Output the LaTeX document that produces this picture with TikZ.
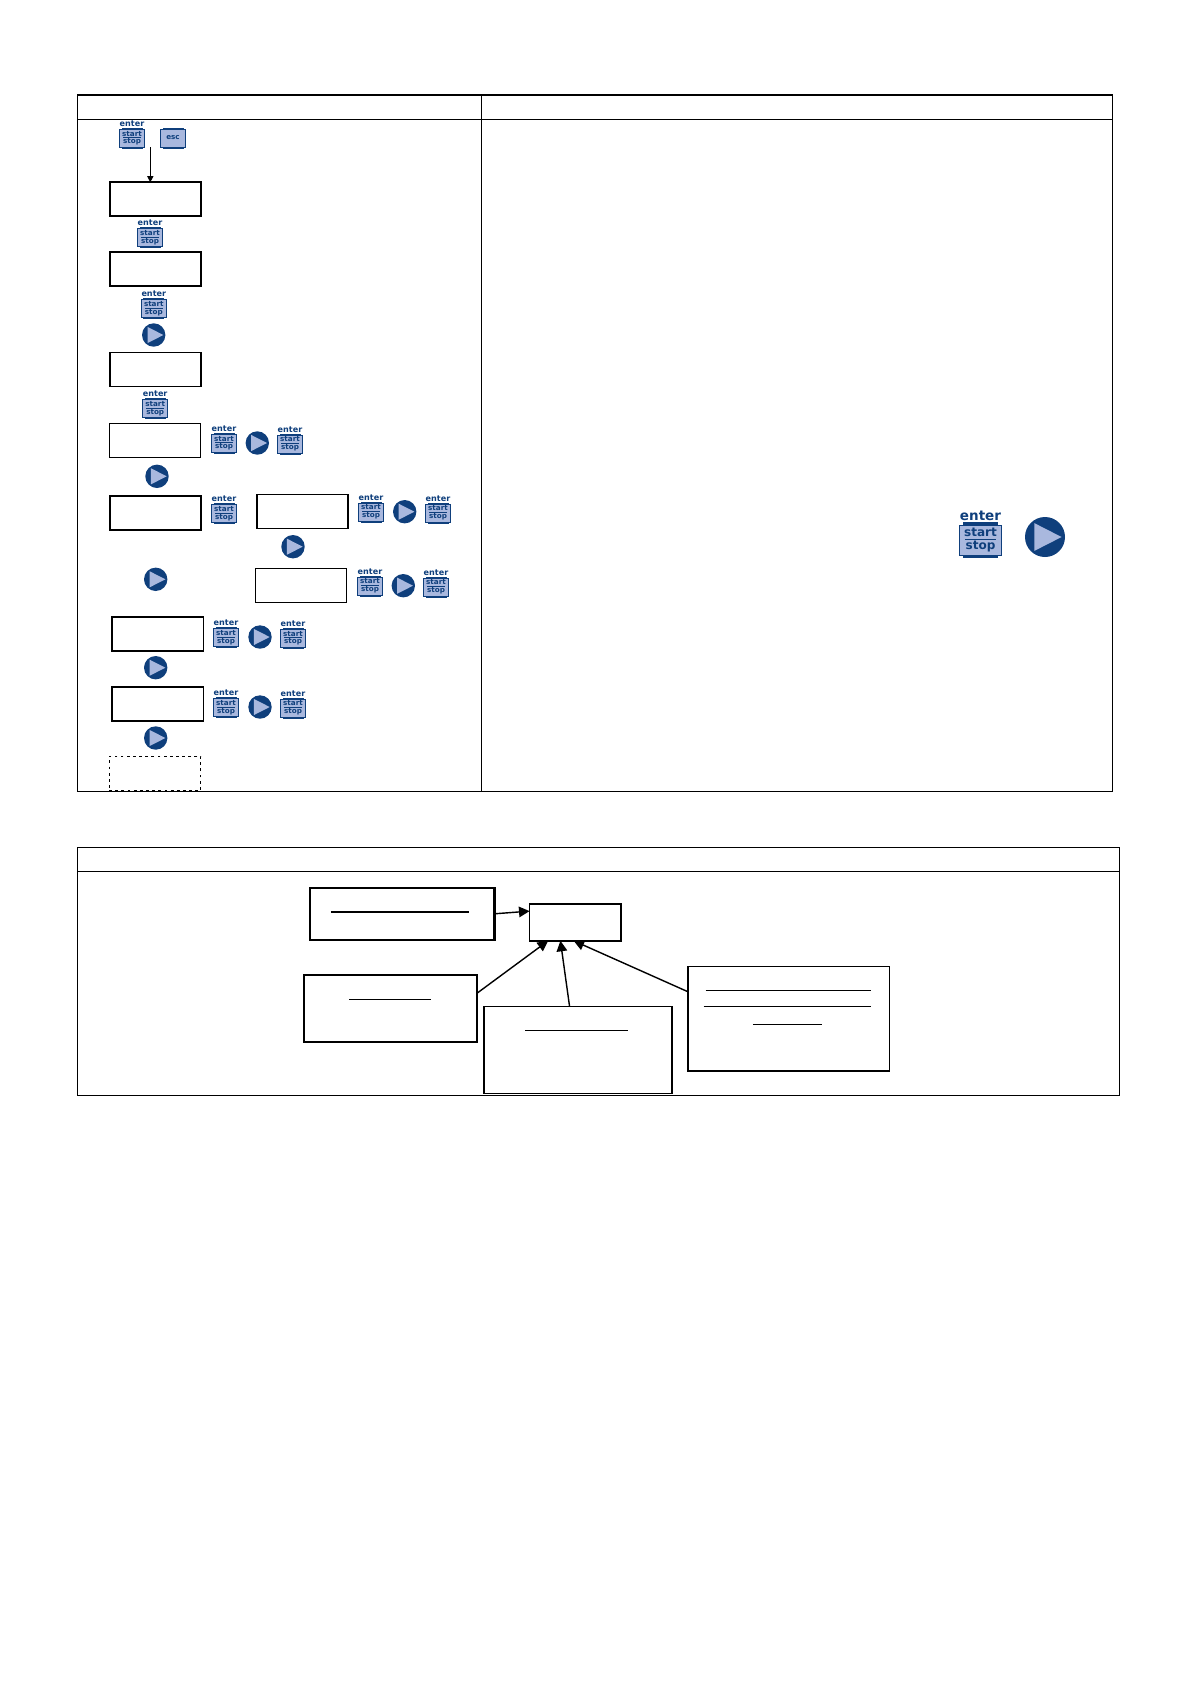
\documentclass[tikz,border=0pt]{standalone}
\usepackage{fontspec}
\setmainfont{DejaVu Sans}
\usetikzlibrary{arrows.meta}
\definecolor{keyblue}{HTML}{0F3F7C}
\definecolor{keyfill}{HTML}{A9B8DE}
\tikzset{
  dispbox/.style={draw, inner sep=0, outer sep=0, line width=1pt, minimum width=91.6*0.02cm, minimum height=34*0.02cm},
  thinbox/.style={dispbox, line width=0.7pt},
  notebox/.style n args={2}{draw, inner sep=0, outer sep=0, line width=0.9pt, minimum width=#1*0.02cm, minimum height=#2*0.02cm},
  keyword/.style={text=keyblue, inner sep=0, transform shape, font=\fontsize{4.1}{5}\selectfont\bfseries},
  enterkey/.pic={
    \fill[keyblue] (-10.5,-10.5) rectangle (10.5,10.5);
    \draw[keyblue, fill=keyfill, line width=0.5pt] (-12.5,-9) rectangle (12.5,9);
    \draw[keyblue, line width=0.6pt] (-9,-0.5) -- (9,-0.5);
    \node[keyword, font=\fontsize{4.6}{5}\selectfont\bfseries] (word) at (0,-14.6) {enter};
    \node[keyword] (top) at (0,-4.6) {start};
    \node[keyword] (bot) at (0,3.8) {stop};
  },
  esckey/.pic={
    \fill[keyblue] (-10.5,-10) rectangle (10.5,10.5);
    \draw[keyblue, fill=keyfill, line width=0.5pt] (-12.5,-9) rectangle (12.5,9);
    \node[keyword] (word) at (0,0) {esc};
  },
  playkey/.pic={
    \fill[keyblue] (0,0) circle (11.7);
    \fill[keyfill] (-6.2,-8.1) -- (9.7,0) -- (-6.2,8.1) -- cycle;
  },
}
\begin{document}
\begin{tikzpicture}[>={Triangle[length=6pt,width=6pt]}, x=0.02cm, y=-0.02cm]
  \useasboundingbox (0,0) rectangle (1190,1684);
  % Upper table
  \draw[line width=0.6pt] (77.3,95) rectangle (1112.6,791.3);
  \draw[line width=0.6pt] (77.3,119.3) -- (1112.6,119.3);
  \draw[line width=0.6pt] (481.7,95) -- (481.7,791.3);
  % Displays
  \node[dispbox] (dispA) at (155.5,199.3) {};
  \node[dispbox] (dispB) at (155.5,269.2) {};
  \node[dispbox] (dispC) at (155.5,369.5) {};
  \node[thinbox] (dispD) at (155,440.5) {};
  \node[dispbox] (dispE) at (155.5,512.8) {};
  \node[dispbox] (dispF) at (302.5,511.5) {};
  \node[thinbox] (dispG) at (301,585.3) {};
  \node[dispbox] (dispH) at (157.8,633.8) {};
  \node[dispbox] (dispI) at (157.8,703.8) {};
  \node[thinbox, dash pattern=on 1.6pt off 1.9pt] (dispJ) at (155,773.3) {};
  % Keys
  \foreach \kx/\ky [count=\n] in {132/138.2, 150/237.8, 153.8/308.7, 155.2/408.8, 224/443.2, 290/444,
      224/513.7, 371/512, 438/513, 370/586, 436/587, 226/637.7, 293/638.3, 226/707.7, 293/708}
    \pic (enter\n) at (\kx,\ky) {enterkey};
  \pic (esc) at (173,138) {esckey};
  \foreach \kx/\ky [count=\n] in {153.7/335, 257.3/443, 157/476.3, 404.7/511.7, 293/546.7, 155.7/579.3,
      403.3/585.7, 260/637, 155.7/667.7, 260/707, 155.7/738}
    \pic (play\n) at (\kx,\ky) {playkey};
  \pic[scale=1.67] (enterbig) at (980.5,540) {enterkey};
  \pic[scale=1.71] (playbig) at (1045,537) {playkey};
  % First arrow
  \coordinate (keydown) at (150.3,147.3);
  \draw[->, >={Triangle[length=3.5pt,width=3.5pt]}, line width=0.6pt] (keydown) -- (keydown |- dispA.north);
  % Lower table
  \draw[line width=0.6pt] (77.3,847.6) rectangle (1119.7,1095.5);
  \draw[line width=0.6pt] (77.3,871.5) -- (1119.7,871.5);
  % Boxes
  \node[notebox={91.3}{36.5}] (goal) at (575.2,922.5) {};
  \node[notebox={184.5}{52.3}, line width=1.2pt] (noteP) at (402.2,913.8) {};
  \node[notebox={172.9}{66.6}, line width=1.1pt] (noteQ) at (390.5,1008.5) {};
  \node[notebox={188.5}{87}] (noteR) at (578,1049.8) {};
  \node[notebox={201.4}{104.2}] (noteS) at (788.6,1018.7) {};
  % Lines in the boxes
  \draw[line width=1pt] (330.8,911.8) -- (469.3,911.8);
  \draw[line width=0.5pt] (349,999.4) -- (430.7,999.4);
  \draw[line width=0.5pt] (525.2,1030.5) -- (628.3,1030.5);
  \draw[line width=0.5pt] (705.6,990.8) -- (871,990.8);
  \draw[line width=0.5pt] (703.5,1006.9) -- (871,1006.9);
  \draw[line width=0.5pt] (752.9,1024.6) -- (821.6,1024.6);
  % Arrows
  \draw[->, line width=0.8pt] (noteP.east) -- (goal.166);
  \draw[->, line width=0.8pt] (noteQ.10) -- (goal.214);
  \draw[->, line width=0.8pt] (noteR.101) -- (goal.231);
  \draw[->, line width=0.8pt] (noteS.165) -- (goal.265);
\end{tikzpicture}
\end{document}
